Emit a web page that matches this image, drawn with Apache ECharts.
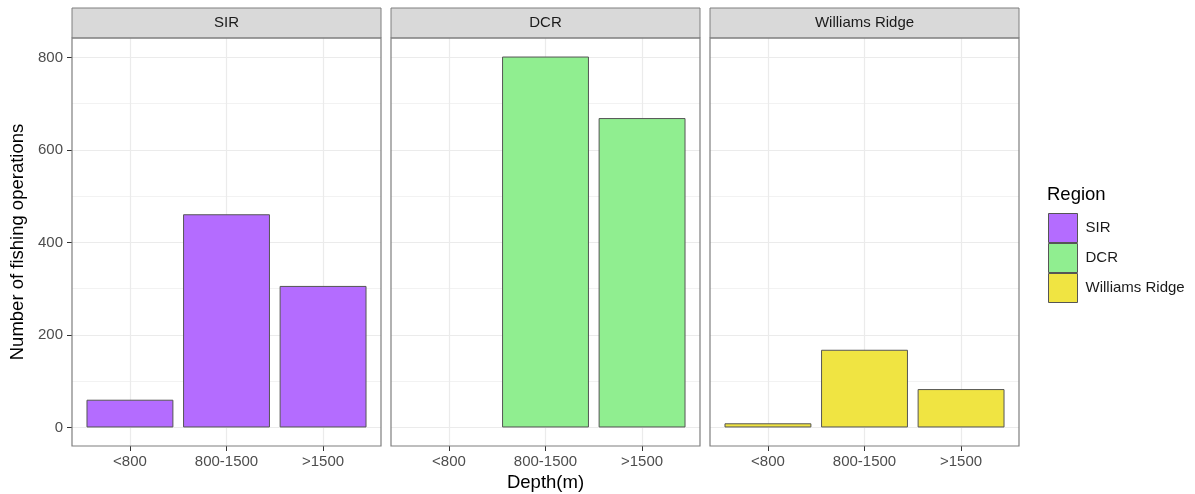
<!DOCTYPE html>
<html>
<head>
<meta charset="utf-8">
<script src="https://cdn.jsdelivr.net/npm/echarts@6/dist/echarts.min.js"></script>
<style>
  html, body { margin: 0; padding: 0; background: #ffffff; }
  #chart { width: 1195px; height: 494px; }
</style>
</head>
<body>
<div id="chart"></div>
<script>
// Fishing operations by depth band, one facet per region
const regions = ['SIR', 'DCR', 'Williams Ridge'];
const depthBins = ['<800', '800-1500', '>1500'];
const sirCounts = [60, 461, 306];
const dcrCounts = [null, 802, 669];
const williamsCounts = [9, 168, 83];
const regionColors = ['#B46CFF', '#90EE90', '#F0E442'];
const yTicks = [0, 200, 400, 600, 800];
const yMinorTicks = [100, 300, 500, 700];

const countsByRegion = [sirCounts, dcrCounts, williamsCounts];

// facet layout
const FONT = '"Liberation Sans", Arial, sans-serif';
const panelLeft = [72, 391, 710];
const panelTop = 38;
const panelW = 309;
const panelH = 408;
const stripTop = 8;
const stripH = 30;

// discrete x scale: categories at 1..n, padded by 0.6 on each side
const xMin = 0.4, xMax = depthBins.length + 0.6;
const barW = 0.9 * panelW / (xMax - xMin);
const xPos = depthBins.map((b, j) => j + 1);

// continuous y scale with 5% expansion
const allVals = countsByRegion.flat().filter(v => v != null);
const dataMax = Math.max(...allVals);
const yPad = dataMax * 0.05;
const yMin = -yPad, yMax = dataMax + yPad;

const grids = [], xAxes = [], yAxes = [], series = [], graphics = [];

regions.forEach((reg, i) => {
  grids.push({ left: panelLeft[i], top: panelTop, width: panelW, height: panelH, containLabel: false });

  xAxes.push({
    type: 'value', gridIndex: i, min: xMin, max: xMax, position: 'bottom',
    axisLine: { show: false, onZero: false },
    axisTick: { show: true, length: 5, customValues: xPos, lineStyle: { color: '#333333', width: 1 } },
    axisLabel: {
      customValues: xPos, color: '#4D4D4D', fontSize: 15, fontFamily: FONT, margin: 8,
      formatter: v => depthBins[Math.round(v) - 1]
    },
    splitLine: { show: true, lineStyle: { color: '#EBEBEB', width: 1.2 } }
  });

  // major y axis (ticks + labels on the first facet only)
  yAxes.push({
    type: 'value', gridIndex: i, min: yMin, max: yMax, position: 'left',
    axisLine: { show: false, onZero: false },
    axisTick: { show: i === 0, length: 5, customValues: yTicks, lineStyle: { color: '#333333', width: 1 } },
    axisLabel: { show: i === 0, customValues: yTicks, color: '#4D4D4D', fontSize: 15, fontFamily: FONT, margin: 9 },
    splitLine: { show: true, lineStyle: { color: '#EBEBEB', width: 1.2 } }
  });
  // minor y grid lines
  yAxes.push({
    type: 'value', gridIndex: i, min: yMin, max: yMax, position: 'left',
    axisLine: { show: false, onZero: false },
    axisTick: { show: false, customValues: yMinorTicks },
    axisLabel: { show: false, customValues: yMinorTicks },
    splitLine: { show: true, lineStyle: { color: '#EFEFEF', width: 0.8 } }
  });

  series.push({
    type: 'bar', name: reg, xAxisIndex: i, yAxisIndex: 2 * i,
    data: countsByRegion[i].map((v, j) => [xPos[j], v == null ? '-' : v]),
    barWidth: barW,
    itemStyle: { color: regionColors[i], borderColor: '#555555', borderWidth: 1 },
    emphasis: { disabled: true },
    z: 3
  });

  // strip and panel frame
  graphics.push({
    type: 'rect', silent: true, z: 100,
    shape: { x: panelLeft[i], y: stripTop, width: panelW, height: stripH },
    style: { fill: '#D9D9D9', stroke: '#7F7F7F', lineWidth: 1 }
  });
  graphics.push({
    type: 'text', silent: true, z: 101,
    x: panelLeft[i] + panelW / 2, y: stripTop + stripH / 2,
    style: { text: reg, fill: '#1A1A1A', fontSize: 15, fontFamily: FONT, align: 'center', verticalAlign: 'middle' }
  });
  graphics.push({
    type: 'rect', silent: true, z: 100,
    shape: { x: panelLeft[i], y: panelTop, width: panelW, height: panelH },
    style: { fill: 'none', stroke: '#7F7F7F', lineWidth: 1.2 }
  });
});

// axis titles and legend title
graphics.push({
  type: 'text', silent: true, z: 101,
  x: (panelLeft[0] + panelLeft[2] + panelW) / 2, y: 483,
  style: { text: 'Depth(m)', fill: '#000000', fontSize: 18.5, fontFamily: FONT, align: 'center', verticalAlign: 'middle' }
});
graphics.push({
  type: 'text', silent: true, z: 101,
  x: 18, y: panelTop + panelH / 2, rotation: Math.PI / 2,
  style: { text: 'Number of fishing operations', fill: '#000000', fontSize: 18.5, fontFamily: FONT, align: 'center', verticalAlign: 'middle' }
});
graphics.push({
  type: 'text', silent: true, z: 101,
  x: 1047, y: 195,
  style: { text: 'Region', fill: '#000000', fontSize: 18.5, fontFamily: FONT, align: 'left', verticalAlign: 'middle' }
});

const chart = echarts.init(document.getElementById('chart'), null, { renderer: 'canvas' });
chart.setOption({
  backgroundColor: '#ffffff',
  animation: false,
  grid: grids,
  xAxis: xAxes,
  yAxis: yAxes,
  series: series,
  legend: {
    data: regions, orient: 'vertical', left: 1048, top: 213, padding: 0,
    itemWidth: 29, itemHeight: 29, itemGap: 0, icon: 'rect', selectedMode: false,
    itemStyle: { borderColor: '#555555', borderWidth: 1 },
    textStyle: { fontSize: 15, color: '#1A1A1A', fontFamily: FONT, padding: [0, 0, 0, 3] }
  },
  graphic: graphics
});
</script>
</body>
</html>
